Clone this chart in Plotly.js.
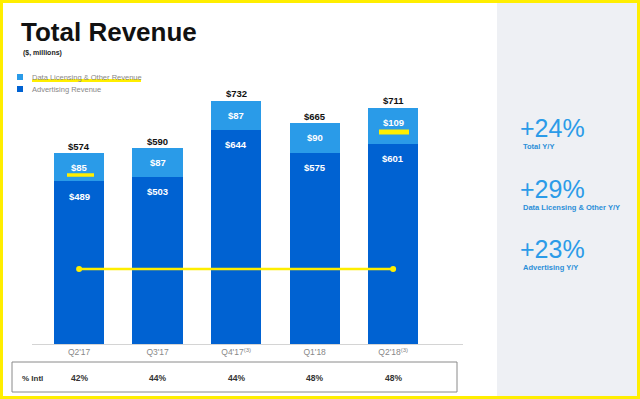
<!DOCTYPE html>
<html><head><meta charset="utf-8">
<script src="https://cdn.plot.ly/plotly-3.0.1.min.js"></script>
<style>html,body{margin:0;padding:0;background:#fff}#c{width:640px;height:399px}</style>
</head><body><div id="c"></div>
<script>
const quarters = ["Q2'17","Q3'17","Q4'17","Q1'18","Q2'18"];
const tickLabels = ["Q2'17","Q3'17","Q4'17<sup>(3)</sup>","Q1'18","Q2'18<sup>(3)</sup>"];
const advertising = [489,503,644,575,601];
const dataLicensing = [85,87,87,90,109];
const totals = [574,590,732,665,711];
const intlPct = ["42%","44%","44%","48%","48%"];
const seriesNames = ["Advertising Revenue","Data Licensing & Other Revenue"];
const highlightX = ["Q2'17","Q2'18"];
const highlightY = [225,225];
const kpiValues = ["+24%","+29%","+23%"];
const kpiLabels = ["Total Y/Y","Data Licensing & Other Y/Y","Advertising Y/Y"];

const DARK = "#0062D2", LIGHT = "#2A9BE8", YEL = "#FFEE00";
const FONT = "Liberation Sans, Arial, sans-serif";
// pixel -> paper helpers (plot area: x 32..463, y 60..344)
const L = 32, W = 431, T = 60, H = 284;
const px = v => (v - L) / W;
const py = v => (T + H - v) / H;

const traces = [
  {type:"bar", x:quarters, y:advertising, name:seriesNames[0], marker:{color:DARK},
   hoverinfo:"skip"},
  {type:"bar", x:quarters, y:dataLicensing, name:seriesNames[1], marker:{color:LIGHT},
   hoverinfo:"skip"},
  {type:"scatter", mode:"lines+markers", x:highlightX, y:highlightY,
   line:{color:YEL, width:2.5}, marker:{color:YEL, size:6}, hoverinfo:"skip"}
];

const shapes = [
  {type:"rect", xref:"paper", yref:"paper", x0:px(497), x1:px(637), y0:py(396), y1:py(3),
   fillcolor:"#EEF0F4", line:{width:0}, layer:"below"},
  {type:"rect", xref:"paper", yref:"paper", x0:px(12), x1:px(457), y0:py(392), y1:py(362),
   line:{color:"#8a8a8a", width:1}},
  {type:"line", xref:"paper", yref:"paper", x0:px(32), x1:px(141), y0:py(80.5), y1:py(80.5),
   line:{color:YEL, width:3}},
  {type:"line", xref:"paper", yref:"paper", x0:px(67), x1:px(94), y0:py(175), y1:py(175),
   line:{color:YEL, width:3.5}},
  {type:"line", xref:"paper", yref:"paper", x0:px(379), x1:px(409), y0:py(132), y1:py(132),
   line:{color:YEL, width:5}},
  {type:"rect", xref:"paper", yref:"paper", x0:px(17), x1:px(23), y0:py(80), y1:py(74),
   fillcolor:LIGHT, line:{width:0}},
  {type:"rect", xref:"paper", yref:"paper", x0:px(17), x1:px(23), y0:py(92), y1:py(86),
   fillcolor:DARK, line:{width:0}},
  {type:"rect", xref:"paper", yref:"paper", x0:px(1.5), x1:px(638.5), y0:py(397.5), y1:py(1.5),
   line:{color:YEL, width:3}}
];

const ann = [];
quarters.forEach((q,i)=>{
  ann.push({x:q, y:totals[i], yanchor:"bottom", yshift:-1, showarrow:false,
    text:"$"+totals[i], font:{family:FONT, size:9.5, color:"#111", weight:"bold"}});
  ann.push({x:q, y:totals[i], yanchor:"middle", yshift:-15, showarrow:false,
    text:"$"+dataLicensing[i], font:{family:FONT, size:9.5, color:"#fff", weight:"bold"}});
  ann.push({x:q, y:advertising[i], yanchor:"middle", yshift:-15, showarrow:false,
    text:"$"+advertising[i], font:{family:FONT, size:9.5, color:"#fff", weight:"bold"}});
  ann.push({x:q, yref:"paper", y:py(378), yanchor:"middle", showarrow:false,
    text:intlPct[i], font:{family:FONT, size:8.5, color:"#333", weight:"bold"}});
});
ann.push({xref:"paper", yref:"paper", x:px(20), y:py(378), xanchor:"left", yanchor:"middle",
  showarrow:false, text:"% Intl", font:{family:FONT, size:8, color:"#333", weight:"bold"}});
ann.push({xref:"paper", yref:"paper", x:px(21), y:py(53), xanchor:"left", yanchor:"middle",
  showarrow:false, text:"($, millions)", font:{family:FONT, size:7, color:"#222", weight:"bold"}});
ann.push({xref:"paper", yref:"paper", x:px(30), y:py(77), xanchor:"left", yanchor:"middle",
  showarrow:false, text:seriesNames[1], font:{family:FONT, size:7.5, color:"#888"}});
ann.push({xref:"paper", yref:"paper", x:px(30), y:py(89), xanchor:"left", yanchor:"middle",
  showarrow:false, text:seriesNames[0], font:{family:FONT, size:7.5, color:"#888"}});
const kpiY = [128,189,249];
kpiValues.forEach((v,i)=>{
  ann.push({xref:"paper", yref:"paper", x:px(518), y:py(kpiY[i]), xanchor:"left", yanchor:"middle",
    showarrow:false, text:v, font:{family:FONT, size:25, color:"#2B9BE8"}});
  ann.push({xref:"paper", yref:"paper", x:px(521), y:py(kpiY[i]+18), xanchor:"left", yanchor:"middle",
    showarrow:false, text:kpiLabels[i], font:{family:FONT, size:7.5, color:"#2B8FD8", weight:"bold"}});
});

const layout = {
  width:640, height:399,
  margin:{l:L, r:640-L-W, t:T, b:399-T-H, pad:0},
  paper_bgcolor:"#fff", plot_bgcolor:"rgba(0,0,0,0)",
  barmode:"stack", bargap:0.36, showlegend:false,
  title:{text:"<b>Total Revenue</b>", x:21/640, xanchor:"left", y:1-32/399, yanchor:"middle",
    font:{family:FONT, size:26, color:"#111"}},
  xaxis:{type:"category", range:[-0.6,4.89], tickvals:quarters, ticktext:tickLabels,
    showline:true, linecolor:"#d4d4d4", linewidth:1, showgrid:false, zeroline:false,
    ticks:"", tickfont:{family:FONT, size:8.5, color:"#888"}, fixedrange:true},
  yaxis:{range:[0,853], visible:false, showgrid:false, zeroline:false, fixedrange:true},
  shapes:shapes, annotations:ann
};
Plotly.newPlot("c", traces, layout, {displayModeBar:false, staticPlot:true});
</script></body></html>
